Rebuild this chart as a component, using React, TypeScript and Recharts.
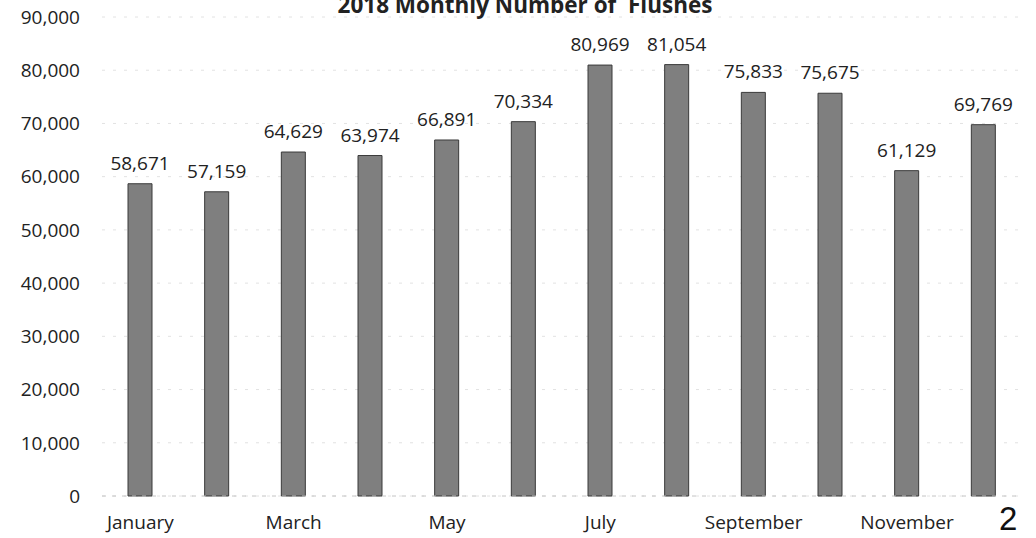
import React from "react";
import { BarChart, Bar, XAxis, YAxis, CartesianGrid, LabelList } from "recharts";

const months = [
  "January", "February", "March", "April", "May", "June",
  "July", "August", "September", "October", "November", "December",
];
const flushes = [58671, 57159, 64629, 63974, 66891, 70334, 80969, 81054, 75833, 75675, 61129, 69769];
const yTicks = [0, 10000, 20000, 30000, 40000, 50000, 60000, 70000, 80000, 90000];
const title = "2018 Monthly Number of\u00a0 Flushes";
const pageNumber = "2";

const data = months.map((m, i) => ({ month: m, value: flushes[i] }));

const fmt = (v: number) => v.toLocaleString("en-US");
const font = "'Open Sans', sans-serif";

export default function App() {
  return (
    <div style={{ position: "absolute", left: 0, top: 0, width: 1036, height: 538, background: "#fff", overflow: "hidden" }}>
      <BarChart
        width={1036}
        height={538}
        data={data}
        margin={{ top: 17, right: 14, bottom: 12, left: 0 }}
        barCategoryGap={0}
      >
        <CartesianGrid vertical={false} stroke="#e2e2e2" strokeDasharray="3 8" />
        <XAxis
          dataKey="month"
          height={30}
          interval={1}
          tickLine={false}
          tickSize={0}
          tickMargin={20}
          axisLine={{ stroke: "#c4c4c4", strokeDasharray: "4 6" }}
          tick={{ fill: "#222", fontSize: 19, fontFamily: font }}
        />
        <YAxis
          width={102}
          domain={[0, 90000]}
          ticks={yTicks}
          tickFormatter={fmt}
          axisLine={false}
          tickLine={false}
          tickSize={0}
          tickMargin={22}
          tick={{ fill: "#222", fontSize: 19, fontFamily: font }}
        />
        <Bar
          dataKey="value"
          fill="#7f7f7f"
          stroke="#3a3a3a"
          strokeWidth={1}
          barSize={24}
          isAnimationActive={false}
        >
          <LabelList
            dataKey="value"
            position="top"
            offset={14}
            formatter={(v: number) => fmt(v)}
            style={{ fill: "#222", fontSize: 19, fontFamily: font }}
          />
        </Bar>
      </BarChart>
      <div
        style={{
          position: "absolute",
          left: 0,
          width: 1050,
          top: -9,
          textAlign: "center",
          fontFamily: font,
          fontWeight: 700,
          fontSize: 22.5,
          color: "#222",
          whiteSpace: "pre",
          lineHeight: "28px",
        }}
      >
        {title}
      </div>
      <div
        style={{
          position: "absolute",
          left: 999,
          top: 500,
          fontFamily: "'Liberation Sans', Arial, sans-serif",
          fontSize: 33,
          color: "#111",
          lineHeight: "38px",
        }}
      >
        {pageNumber}
      </div>
    </div>
  );
}
